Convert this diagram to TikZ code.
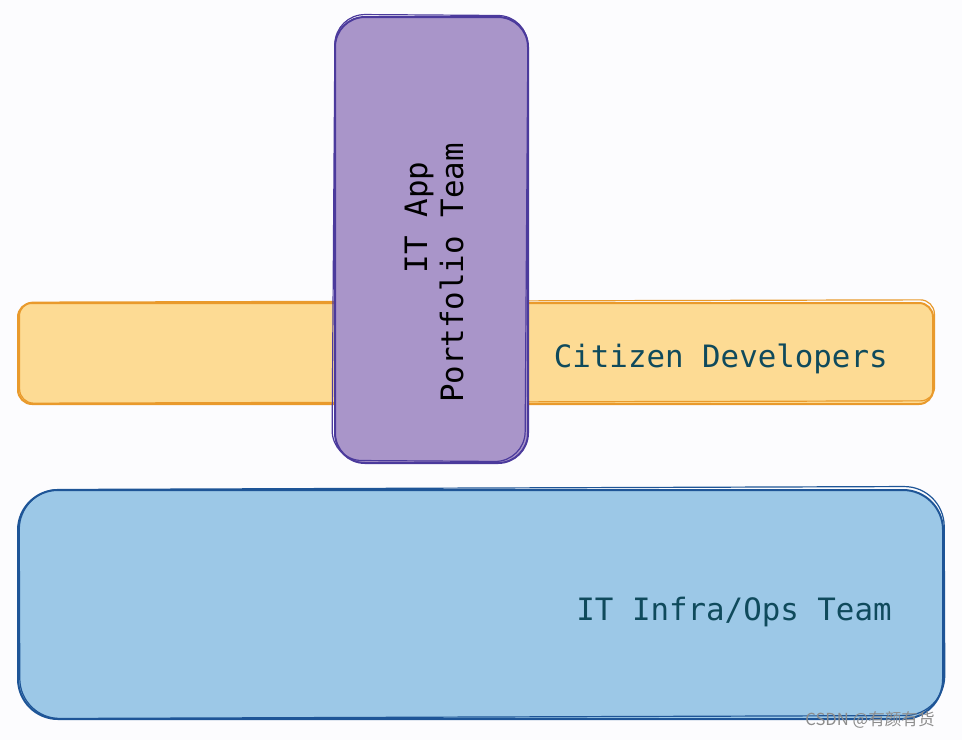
\documentclass[tikz,border=0pt]{standalone}
\usepackage{fontspec}
\setmonofont{DejaVu Sans Mono}
\newfontfamily\cjkfont{Noto Sans CJK SC}
\usetikzlibrary{positioning}
\definecolor{pagebg}{HTML}{FCFCFE}
\definecolor{barfill}{HTML}{FDDB94}
\definecolor{barline}{HTML}{E99A2C}
\definecolor{appfill}{HTML}{A995C9}
\definecolor{appline}{HTML}{4B3A9C}
\definecolor{infrafill}{HTML}{9CC8E7}
\definecolor{infraline}{HTML}{1E5597}
\definecolor{labeltext}{HTML}{0F4A5C}
\tikzset{
  sketchbox/.style={rectangle, inner sep=0pt, outer sep=0pt, line width=1pt},
  citizenbar/.style={sketchbox, rounded corners=7pt, fill=barfill, draw=barline,
    minimum width=457.5pt, minimum height=50.5pt},
  appbox/.style={sketchbox, rounded corners=15pt, fill=appfill, draw=appline,
    minimum width=96.5pt, minimum height=223pt},
  infrabox/.style={sketchbox, rounded corners=20pt, fill=infrafill, draw=infraline,
    minimum width=462.5pt, minimum height=114.5pt},
  boxlabel/.style={font=\fontsize{15.4}{18}\selectfont\ttfamily, inner sep=0pt},
}
\begin{document}
\begin{tikzpicture}[x=0.5pt,y=-0.5pt]
\fill[pagebg] (0,0) rectangle (962,740);
\useasboundingbox (0,0) rectangle (962,740);

% citizen developers bar, behind the app team
\node[citizenbar] (citizen) at (475.5,353.5){};
\node[citizenbar, fill=none, line width=0.6pt, rotate=0.15] (citizen2) at (477,351.5){};
\node[boxlabel, labeltext, left=22.5pt of citizen.east, yshift=-2.5pt] (citizenlbl){Citizen Developers};

% app portfolio team
\node[appbox] (app) at (431.5,240){};
\node[appbox, fill=none, line width=0.6pt, rotate=-0.4] (app2) at (430,238){};
\node[boxlabel, rotate=90, align=right] (applbl) at (434,273){IT App\hphantom{x}\\Portfolio Team};

% infra / ops team
\node[infrabox] (infra) at (480.5,604.5){};
\node[infrabox, fill=none, line width=0.6pt, rotate=0.2] (infra2) at (482,602.5){};
\node[boxlabel, labeltext, left=25.5pt of infra.east, yshift=-3.5pt] (infralbl){IT Infra/Ops Team};

\node[font=\fontsize{8.3}{10}\selectfont\cjkfont, text=black!45, inner sep=0pt] (mark) at (870,720){CSDN @有颜有货};

\end{tikzpicture}
\end{document}
